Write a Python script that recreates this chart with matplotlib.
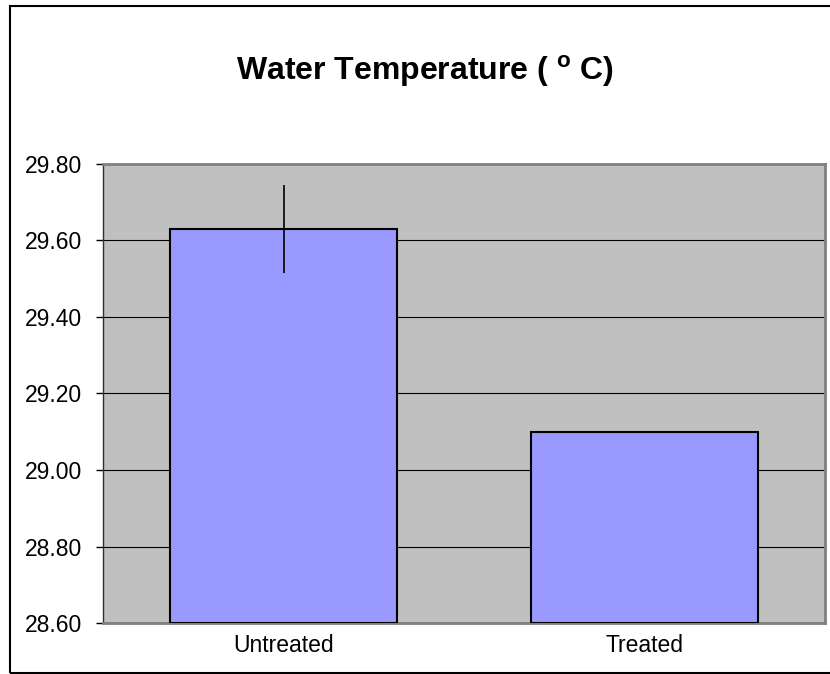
import matplotlib
matplotlib.use("Agg")
import matplotlib.pyplot as plt
from matplotlib.patches import Rectangle

# data
groups = ['Untreated', 'Treated']
temps = [29.63, 29.10]
errs = [0.115, 0.0]
yticks = [28.60, 28.80, 29.00, 29.20, 29.40, 29.60, 29.80]

plt.rcParams['font.family'] = ['Liberation Sans', 'DejaVu Sans']

fig = plt.figure(figsize=(8.3, 6.74), dpi=100)
ax = fig.add_axes([0.1241, 0.0752, 0.8702, 0.6822])
ax.set_facecolor('#C0C0C0')

x = list(range(len(groups)))
ax.bar(x, [t - yticks[0] for t in temps], bottom=yticks[0], width=0.63,
       color='#9999FF', edgecolor='black', linewidth=1.5, zorder=3)
ax.errorbar(x, temps, yerr=errs, fmt='none', ecolor='black', elinewidth=1.2,
            capsize=0, zorder=4)

ax.set_xlim(-0.5, 1.5)
ax.set_ylim(yticks[0], yticks[-1])
ax.set_yticks(yticks)
ax.set_yticklabels(['%.2f' % v for v in yticks])
ax.set_xticks(x)
ax.set_xticklabels(groups)
ax.tick_params(axis='y', labelsize=16.5, length=5, width=1, pad=10, direction='out')
ax.tick_params(axis='x', labelsize=16.5, length=0, pad=8)
ax.yaxis.grid(True, color='black', linewidth=0.8, zorder=1)
ax.set_axisbelow(True)

for s in ['top', 'right', 'bottom']:
    ax.spines[s].set_color('#808080')
    ax.spines[s].set_linewidth(2)
ax.spines['left'].set_color('#303030')
ax.spines['left'].set_linewidth(1)

fig.text(425 / 830, 1 - 80 / 674, 'Water Temperature ( $^\\mathregular{o}$ C)',
         ha='center', va='baseline', fontsize=23, fontweight='bold')

# outer chart frame
fig.patches.append(Rectangle((10 / 830, 1 / 674), 1.0, 667 / 674,
                             transform=fig.transFigure, fill=False,
                             edgecolor='black', linewidth=1.5))

fig.savefig('out.png', dpi=100)
